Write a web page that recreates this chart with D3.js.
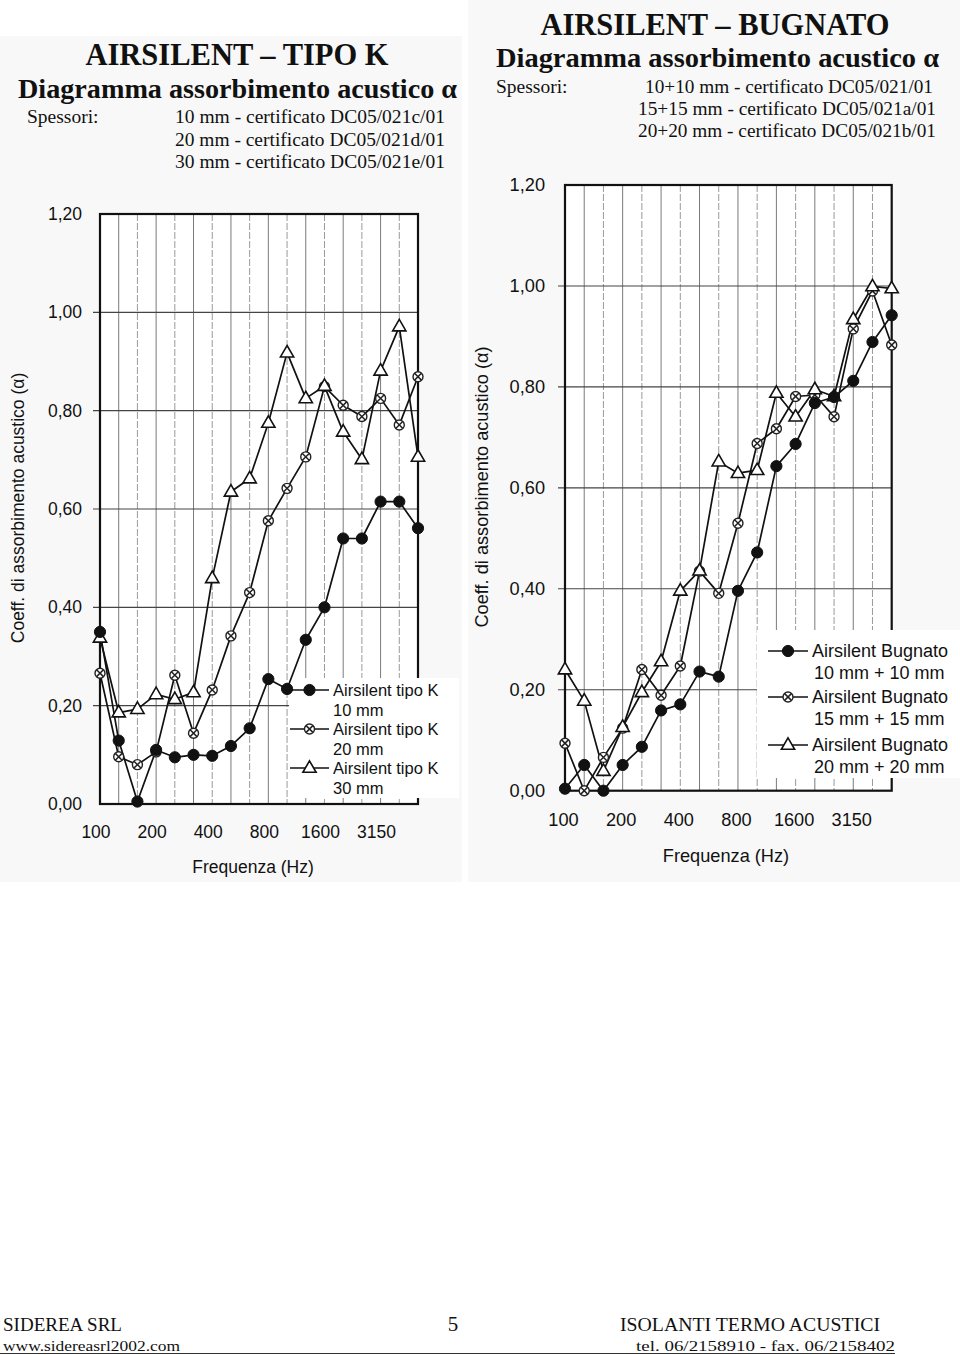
<!DOCTYPE html>
<html>
<head>
<meta charset="utf-8">
<script src="https://cdn.jsdelivr.net/npm/d3@7"></script>
<style>
  html, body { margin: 0; padding: 0; background: #fff; }
  svg { display: block; }
</style>
</head>
<body>
<svg id="page" width="960" height="1355"></svg>
<script>
// ---------- DATA ----------
const freqs = ["100","125","160","200","250","315","400","500","630","800","1000","1250","1600","2000","2500","3150","4000","5000"];
const tickFreqs = ["100","200","400","800","1600","3150"];
const yTicks = [0, 0.2, 0.4, 0.6, 0.8, 1.0, 1.2];

// AIRSILENT - TIPO K
const tipoK10 = [0.350,0.129,0.005,0.110,0.095,0.100,0.098,0.118,0.154,0.254,0.234,0.334,0.400,0.540,0.540,0.615,0.615,0.561];
const tipoK20 = [0.266,0.096,0.080,0.106,0.262,0.144,0.232,0.342,0.430,0.576,0.642,0.706,0.849,0.811,0.788,0.825,0.771,0.869];
const tipoK30 = [0.338,0.186,0.193,0.223,0.213,0.227,0.459,0.635,0.662,0.775,0.918,0.825,0.850,0.757,0.701,0.881,0.971,0.706];
const tipoKLabels = [["Airsilent tipo K","10 mm"],["Airsilent tipo K","20 mm"],["Airsilent tipo K","30 mm"]];

// AIRSILENT - BUGNATO
const bug10 = [0.004,0.051,0.000,0.051,0.087,0.159,0.171,0.236,0.226,0.396,0.472,0.643,0.687,0.768,0.780,0.812,0.889,0.942];
const bug15 = [0.094,0.000,0.066,0.124,0.240,0.189,0.247,0.435,0.391,0.530,0.688,0.717,0.781,0.784,0.741,0.915,0.990,0.883];
const bug20 = [0.240,0.178,0.039,0.126,0.195,0.256,0.396,0.436,0.652,0.629,0.635,0.788,0.741,0.795,0.781,0.934,0.999,0.995];
const bugLabels = [["Airsilent Bugnato","10 mm + 10 mm"],["Airsilent Bugnato","15 mm + 15 mm"],["Airsilent Bugnato","20 mm + 20 mm"]];

const markerTypes = ["circle","cross","triangle"];
const yAxisTitle = "Coeff. di assorbimento acustico (\u03B1)";
const xAxisTitle = "Frequenza (Hz)";

// ---------- DRAW ----------
const svg = d3.select("#page");
const SANS = "'Liberation Sans', Arial, sans-serif";
const SERIF = "'Liberation Serif', 'Times New Roman', serif";
const fmt = v => d3.format(".2f")(v).replace(".", ",");

// faint scanned panels
svg.append("rect").attr("x",0).attr("y",36).attr("width",462).attr("height",846).attr("fill","#f8f8f8");
svg.append("rect").attr("x",468).attr("y",0).attr("width",492).attr("height",882).attr("fill","#f8f8f8");

function drawMarker(g, type, x, y) {
  if (type === "circle") {
    g.append("circle").attr("cx",x).attr("cy",y).attr("r",5.6).attr("fill","#111").attr("stroke","#111");
  } else if (type === "triangle") {
    g.append("path").attr("d", d3.symbol().type(d3.symbolTriangle).size(76)())
      .attr("transform",`translate(${x},${y+0.5})`).attr("fill","#fff").attr("stroke","#111").attr("stroke-width",1.6);
  } else {
    g.append("circle").attr("cx",x).attr("cy",y).attr("r",5).attr("fill","#fff").attr("stroke","#222").attr("stroke-width",1.4);
    const s = 3.4;
    g.append("path").attr("d",`M${x-s},${y-s}L${x+s},${y+s}M${x-s},${y+s}L${x+s},${y-s}`)
      .attr("stroke","#222").attr("stroke-width",1.5);
  }
}

function drawChart(cfg) {
  const g = svg.append("g");
  const x = d3.scalePoint().domain(freqs).range([cfg.x0, cfg.x1]).padding(0);
  const y = d3.scaleLinear().domain([0, 1.2]).range([cfg.yb, cfg.yt]);

  // white plot area
  g.append("rect").attr("x",cfg.x0).attr("y",cfg.yt).attr("width",cfg.x1-cfg.x0).attr("height",cfg.yb-cfg.yt).attr("fill","#fff");

  // vertical grid
  g.selectAll(".vg").data(freqs.slice(1, -1)).enter().append("line")
    .attr("x1", d => x(d)).attr("x2", d => x(d))
    .attr("y1", cfg.yt).attr("y2", cfg.yb)
    .attr("stroke", (d,i) => i % 2 ? "#9a9a9a" : "#7a7a7a")
    .attr("stroke-width", 1)
    .attr("stroke-dasharray", (d,i) => i % 2 ? "7,2" : null);

  // horizontal grid with left ticks
  g.selectAll(".hg").data(yTicks.slice(1, -1)).enter().append("line")
    .attr("x1", cfg.x0 - 7).attr("x2", cfg.x1)
    .attr("y1", d => y(d)).attr("y2", d => y(d))
    .attr("stroke", "#444").attr("stroke-width", 1.1);

  // frame
  g.append("rect").attr("x",cfg.x0).attr("y",cfg.yt).attr("width",cfg.x1-cfg.x0).attr("height",cfg.yb-cfg.yt)
    .attr("fill","none").attr("stroke","#111").attr("stroke-width",2.2);

  // legend background (covers grid)
  g.append("rect").attr("x",cfg.legX).attr("y",cfg.legY).attr("width",cfg.legW).attr("height",cfg.legH).attr("fill","#fff");

  // y tick labels
  g.selectAll(".yl").data(yTicks).enter().append("text")
    .attr("x", cfg.x0 - cfg.ylGap).attr("y", d => y(d)).attr("dy","0.35em")
    .attr("text-anchor","end").attr("font-family",SANS).attr("font-size",cfg.fs).attr("fill","#111")
    .text(fmt);

  // x tick labels
  g.selectAll(".xl").data(tickFreqs).enter().append("text")
    .attr("x", d => x(d) + cfg.xlShift).attr("y", cfg.xlY)
    .attr("text-anchor","middle").attr("font-family",SANS).attr("font-size",cfg.fs).attr("fill","#111")
    .text(d => d);

  // axis titles
  g.append("text").attr("x", cfg.xtX).attr("y", cfg.xtY).attr("text-anchor","middle")
    .attr("font-family",SANS).attr("font-size",cfg.fs).attr("fill","#111").text(xAxisTitle);
  g.append("text").attr("transform",`translate(${cfg.ytX},${cfg.ytY}) rotate(-90)`).attr("text-anchor","middle")
    .attr("dy","0.35em").attr("font-family",SANS).attr("font-size",cfg.fs).attr("fill","#111").text(yAxisTitle);

  // series
  const line = d3.line().x((d,i) => x(freqs[i])).y(d => y(d));
  cfg.series.forEach((s, k) => {
    g.append("path").datum(s).attr("d", line).attr("fill","none").attr("stroke","#111").attr("stroke-width",1.7)
      .attr("stroke-linejoin","round");
  });
  [1, 2, 0].forEach(k => {
    cfg.series[k].forEach((v, i) => drawMarker(g, markerTypes[k], x(freqs[i]), y(v)));
  });

  // legend
  cfg.labels.forEach((lab, k) => {
    const yy = cfg.legRows[k];
    g.append("line").attr("x1",cfg.legLineX0).attr("x2",cfg.legLineX1).attr("y1",yy).attr("y2",yy)
      .attr("stroke","#111").attr("stroke-width",1.7);
    drawMarker(g, markerTypes[k], (cfg.legLineX0 + cfg.legLineX1)/2, yy);
    g.append("text").attr("x",cfg.legTextX).attr("y",yy).attr("dy","0.35em")
      .attr("font-family",SANS).attr("font-size",cfg.legFs).attr("fill","#111").text(lab[0]);
    g.append("text").attr("x",cfg.legTextX).attr("y",yy + cfg.legSub).attr("dy","0.35em").attr("dx", cfg.subIndent)
      .attr("font-family",SANS).attr("font-size",cfg.legFs).attr("fill","#111").text(lab[1]);
  });
}

drawChart({
  x0: 100, x1: 418, yt: 214, yb: 804, fs: 17.5, legFs: 16.5, ylGap: 18, xlShift: -4, xlY: 838,
  xtX: 253, xtY: 873, ytX: 18, ytY: 508,
  legX: 289, legY: 678, legW: 170, legH: 120,
  legLineX0: 290, legLineX1: 329, legTextX: 333, legRows: [690, 729, 768], legSub: 20, subIndent: 0,
  series: [tipoK10, tipoK20, tipoK30], labels: tipoKLabels
});

drawChart({
  x0: 565, x1: 891.7, yt: 185, yb: 790.7, fs: 18.2, legFs: 18, ylGap: 20, xlShift: -1.5, xlY: 826,
  xtX: 726, xtY: 862, ytX: 482, ytY: 487,
  legX: 757, legY: 630, legW: 203, legH: 148,
  legLineX0: 768, legLineX1: 808, legTextX: 812, legRows: [651, 697, 745], legSub: 22, subIndent: 2,
  series: [bug10, bug15, bug20], labels: bugLabels
});

// ---------- HEADERS ----------
function txt(x, y, s, size, opts = {}) {
  const t = svg.append("text").attr("x",x).attr("y",y).attr("font-family",opts.family || SERIF)
    .attr("font-size",size).attr("fill","#111").attr("font-weight",opts.bold ? "bold" : "normal")
    .attr("text-anchor",opts.anchor || "start").text(s);
  if (opts.len) t.attr("textLength",opts.len).attr("lengthAdjust","spacingAndGlyphs");
  return t;
}
// left header
txt(237, 65, "AIRSILENT \u2013 TIPO K", 30.5, {bold:true, anchor:"middle"});
txt(18, 98, "Diagramma assorbimento acustico \u03B1", 28, {bold:true, len:439});
txt(27, 123, "Spessori:", 19.5);
txt(175, 123, "10 mm - certificato DC05/021c/01", 19.5, {len:270});
txt(175, 146, "20 mm - certificato DC05/021d/01", 19.5, {len:270});
txt(175, 168, "30 mm - certificato DC05/021e/01", 19.5, {len:270});
// right header
txt(715, 35, "AIRSILENT \u2013 BUGNATO", 30.5, {bold:true, anchor:"middle"});
txt(496, 67, "Diagramma assorbimento acustico \u03B1", 28, {bold:true, len:443});
txt(496, 93, "Spessori:", 19.5);
txt(645, 93, "10+10 mm - certificato DC05/021/01", 19.5, {len:288});
txt(638, 115, "15+15 mm - certificato DC05/021a/01", 19.5, {len:298});
txt(638, 137, "20+20 mm - certificato DC05/021b/01", 19.5, {len:298});

// ---------- FOOTER ----------
txt(3, 1331, "SIDEREA SRL", 18, {len:119});
txt(453, 1331, "5", 21, {anchor:"middle"});
txt(620, 1331, "ISOLANTI TERMO ACUSTICI", 18, {len:260});
txt(3, 1351, "www.sidereasrl2002.com", 15, {len:177});
txt(636, 1351, "tel. 06/2158910  -  fax. 06/2158402", 15, {len:259});
svg.append("line").attr("x1",0).attr("x2",895).attr("y1",1353.5).attr("y2",1353.5).attr("stroke","#333").attr("stroke-width",1);
</script>
</body>
</html>
